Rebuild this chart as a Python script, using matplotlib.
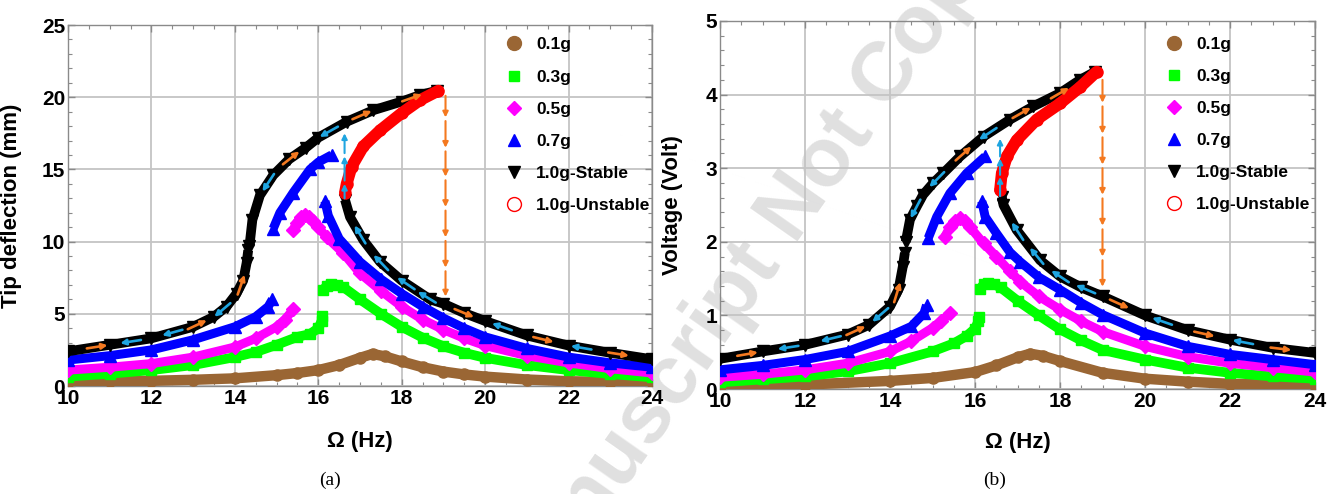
import numpy as np
import matplotlib
matplotlib.use("Agg")
import matplotlib.pyplot as plt
from matplotlib.lines import Line2D
from matplotlib.ticker import MultipleLocator

plt.rcParams['font.family'] = ['Liberation Sans', 'DejaVu Sans']

# ---------------- Panel (a): tip deflection (mm) ----------------
a_f01 = [10, 11, 12, 13, 14, 15, 15.5, 16, 16.5, 17.0, 17.3, 17.6, 18, 18.5, 19, 19.5, 20, 21, 22, 23, 24]
a_d01 = [0.3, 0.32, 0.36, 0.43, 0.53, 0.75, 0.9, 1.1, 1.45, 1.95, 2.22, 2.05, 1.7, 1.3, 1.0, 0.8, 0.65, 0.45, 0.33, 0.28, 0.25]

a_f03L = [10, 11, 12, 13, 14, 14.5, 15, 15.5, 15.8, 16.0, 16.08, 16.1]
a_d03L = [0.65, 0.85, 1.1, 1.45, 2.0, 2.35, 2.85, 3.4, 3.6, 4.0, 4.5, 4.85]
a_f03R = [16.12, 16.2, 16.3, 16.45, 16.6, 17.0, 17.5, 18, 18.5, 19, 19.5, 20, 21, 22, 23, 24]
a_d03R = [6.65, 6.95, 7.05, 7.0, 6.85, 6.0, 5.0, 4.1, 3.35, 2.75, 2.3, 1.95, 1.45, 1.1, 0.83, 0.6]

a_f05L = [10, 11, 12, 13, 14, 14.5, 15, 15.2, 15.4]
a_d05L = [1.1, 1.3, 1.55, 2.0, 2.7, 3.3, 4.1, 4.6, 5.3]
a_f05U = [15.4, 15.48, 15.58, 15.68, 15.78, 15.88, 16.0, 16.2, 16.6, 17.0, 17.5, 18, 18.5, 19, 19.5, 20, 21, 22, 23, 24]
a_d05U = [10.8, 11.3, 11.7, 11.85, 11.7, 11.4, 11.0, 10.3, 9.2, 7.8, 6.6, 5.5, 4.6, 3.9, 3.3, 2.8, 2.1, 1.6, 1.2, 0.9]

a_f07L = [10, 11, 12, 13, 14, 14.5, 14.8, 14.9]
a_d07L = [1.8, 2.1, 2.5, 3.2, 4.1, 4.8, 5.5, 6.0]
a_f07U = [14.92, 15.08, 15.4, 15.8, 16.0, 16.32]
a_d07U = [10.9, 12.0, 13.4, 15.0, 15.5, 16.0]
a_f07R = [16.16, 16.24, 16.5, 17.0, 17.5, 18, 18.5, 19, 19.5, 20, 21, 22, 23, 24]
a_d07R = [12.8, 11.8, 10.2, 8.6, 7.4, 6.4, 5.5, 4.7, 4.0, 3.4, 2.6, 2.0, 1.6, 1.3]

a_f10L = [10, 11, 12, 13, 13.5, 13.8, 14.04, 14.2, 14.28, 14.32]
a_d10L = [2.4, 2.85, 3.3, 4.1, 4.8, 5.5, 6.4, 7.3, 8.5, 9.4]
a_f10U = [14.35, 14.42, 14.6, 14.92, 15.3, 15.7, 16.0, 16.68, 17.32, 18.0, 18.44, 18.84]
a_d10U = [9.7, 11.5, 13.2, 14.6, 15.7, 16.5, 17.2, 18.3, 19.1, 19.7, 20.15, 20.45]
a_f10R = [16.64, 16.76, 17.08, 17.48, 18.0, 18.68, 19, 19.5, 20, 21, 22, 23, 24]
a_d10R = [12.9, 11.7, 10.1, 8.6, 7.3, 6.0, 5.7, 5.05, 4.5, 3.5, 2.8, 2.3, 1.85]

a_fUn = [18.88, 18.44, 18.0, 17.48, 17.08, 16.8, 16.68, 16.64]
a_dUn = [20.45, 19.8, 18.9, 17.7, 16.6, 15.2, 14.0, 13.4]

# ---------------- Panel (b): voltage (V) ----------------
b_f01 = [10, 12, 14, 15, 16, 16.5, 17.0, 17.3, 17.6, 18, 19, 20, 21, 22, 24]
b_v01 = [0.04, 0.06, 0.11, 0.15, 0.23, 0.32, 0.43, 0.48, 0.45, 0.38, 0.22, 0.14, 0.10, 0.07, 0.05]

b_f03L = [10, 11, 12, 13, 14, 15, 15.5, 15.8, 16.0, 16.08, 16.1]
b_v03L = [0.09, 0.13, 0.17, 0.24, 0.35, 0.51, 0.62, 0.72, 0.82, 0.92, 0.98]
b_f03R = [16.12, 16.2, 16.3, 16.45, 16.6, 17.0, 17.5, 18, 18.5, 19, 20, 21, 22, 23, 24]
b_v03R = [1.36, 1.42, 1.44, 1.42, 1.38, 1.2, 1.0, 0.81, 0.66, 0.53, 0.4, 0.29, 0.22, 0.17, 0.14]

b_f05L = [10, 11, 12, 13, 14, 14.5, 15, 15.2, 15.41]
b_v05L = [0.16, 0.2, 0.26, 0.35, 0.51, 0.65, 0.83, 0.92, 1.03]
b_f05U = [15.29, 15.41, 15.53, 15.65, 15.77, 15.88, 16.2, 16.5, 16.82, 17.06, 17.5, 18, 18.5, 19, 20, 21, 22, 23, 24]
b_v05U = [2.07, 2.2, 2.28, 2.32, 2.28, 2.2, 1.98, 1.8, 1.6, 1.46, 1.26, 1.08, 0.92, 0.78, 0.58, 0.44, 0.35, 0.29, 0.23]

b_f07L = [10, 11, 12, 13, 14, 14.5, 14.8, 14.86]
b_v07L = [0.26, 0.32, 0.40, 0.51, 0.72, 0.85, 1.03, 1.14]
b_f07U = [14.9, 15.1, 15.41, 15.8, 16.24]
b_v07U = [2.05, 2.34, 2.66, 2.93, 3.16]
b_f07R = [16.16, 16.24, 16.5, 16.82, 17.06, 17.5, 18, 18.5, 19, 20, 21, 22, 23, 24]
b_v07R = [2.55, 2.34, 2.12, 1.86, 1.73, 1.52, 1.35, 1.17, 1.01, 0.76, 0.58, 0.47, 0.40, 0.33]

b_f10L = [10, 11, 12, 13, 13.5, 14, 14.2, 14.3, 14.35]
b_v10L = [0.41, 0.51, 0.60, 0.74, 0.87, 1.12, 1.35, 1.66, 1.85]
b_f10U = [14.37, 14.47, 14.63, 14.78, 15.02, 15.25, 15.65, 16.2, 16.82, 17.37, 18.0, 18.47, 18.82]
b_v10U = [2.0, 2.3, 2.48, 2.64, 2.80, 2.93, 3.16, 3.43, 3.66, 3.84, 4.02, 4.2, 4.31]
b_f10R = [16.63, 16.67, 16.98, 17.53, 18.0, 18.5, 19.0, 20.0, 21.0, 22.0, 23.0, 24.0]
b_v10R = [2.61, 2.5, 2.16, 1.75, 1.53, 1.38, 1.26, 1.0, 0.8, 0.67, 0.56, 0.49]

b_fUn = [18.86, 18.47, 18.0, 17.45, 16.98, 16.75, 16.63, 16.59]
b_vUn = [4.31, 4.10, 3.88, 3.66, 3.38, 3.16, 2.93, 2.71]

# ---------------- sweep annotations ----------------
a_jump_down_f, a_jump_down_top = 19.05, 20.1
a_jump_down_heads = [18.6, 16.5, 14.5, 12.4, 10.3, 8.2, 6.2]
a_jump_up_f, a_jump_up_bottom = 16.63, 13.0
a_jump_up_heads = [14.0, 15.9, 17.5]
b_jump_down_f, b_jump_down_top = 19.0, 4.2
b_jump_down_heads = [3.89, 3.47, 3.05, 2.64, 2.22, 1.80, 1.39]
b_jump_up_f, b_jump_up_bottom = 16.59, 2.62
b_jump_up_heads = [2.88, 3.13, 3.4]

a_fwd = {'L': [10.7, 13.1, 14.15], 'U': [15.35, 17.05, 18.25], 'R': [19.5, 21.4, 23.2]}
a_bwd = {'L': [11.5, 12.5, 13.7], 'U': [14.8, 16.25], 'R': [17.0, 17.5, 18.1, 18.6, 20.4, 22.3]}
b_fwd = {'L': [10.65, 13.2, 14.17], 'U': [15.73, 17.1, 18.0], 'R': [19.4, 21.4, 23.2]}
b_bwd = {'L': [11.6, 12.6, 13.77], 'U': [14.6, 15.1, 16.3], 'R': [17.0, 17.45, 18.0, 18.6, 20.4, 22.3]}

legend_labels = ['0.1g', '0.3g', '0.5g', '0.7g', '1.0g-Stable', '1.0g-Unstable']

BROWN, GREEN, MAG, BLUE, BLACK, RED = '#9a6634', '#00ff00', '#ff00ff', '#0000ff', '#000000', '#ff0000'
ORANGE, CYAN = '#f47920', '#1fa5e0'

W, H = 13.28, 4.94
fig = plt.figure(figsize=(W, H), dpi=100)
fig.patch.set_facecolor('white')

# watermark (behind the axes)
fig.text(705 / 1328, 1 - 335 / 494, 'Accepted Manuscript Not Copyedited', rotation=55,
         rotation_mode='anchor', ha='center', va='center', fontsize=60, fontweight='bold',
         color='#e0e0e0', zorder=-5)

axA = fig.add_axes([68 / 1328, 108 / 494, 584 / 1328, 361 / 494])
axB = fig.add_axes([720 / 1328, 105 / 494, 595 / 1328, 368 / 494])


def band(ax, f, y, color, marker, ms, lw=7.0, z=3):
    ax.plot(f, y, color=color, lw=lw, solid_capstyle='butt', solid_joinstyle='round',
            marker=marker, ms=ms, mfc=color, mec=color, zorder=z, clip_on=True)


def curve_arrow(ax, fb, yb, fc, sign, color, L=21):
    fb = np.asarray(fb, float); yb = np.asarray(yb, float)
    p1 = ax.transData.transform((fc - 0.12, np.interp(fc - 0.12, fb, yb)))
    p2 = ax.transData.transform((fc + 0.12, np.interp(fc + 0.12, fb, yb)))
    d = p2 - p1
    d = d / np.hypot(*d) * sign
    c = ax.transData.transform((fc, np.interp(fc, fb, yb)))
    inv = ax.transData.inverted()
    head = inv.transform(c + d * L / 2)
    tail = inv.transform(c - d * L / 2)
    ax.annotate('', xy=head, xytext=tail,
                arrowprops=dict(arrowstyle='-|>', color=color, lw=1.9, mutation_scale=8,
                                shrinkA=0, shrinkB=0), zorder=7)


def jump(ax, f, start, heads, color):
    prev = start
    span = abs(heads[1] - heads[0])
    gap = 0.12 * span
    for i, h in enumerate(heads):
        s = prev if i == 0 else (prev - gap if h < prev else prev + gap)
        ax.annotate('', xy=(f, h), xytext=(f, s),
                    arrowprops=dict(arrowstyle='-|>', color=color, lw=1.5, mutation_scale=8,
                                    shrinkA=0, shrinkB=0), zorder=8)
        prev = h


def setup(ax, ymax, ymajor, yminor, ylabel, leg_anchor, ylab_x, xlab_y):
    ax.set_xlim(10, 24)
    ax.set_ylim(0, ymax)
    ax.patch.set_alpha(0)
    ax.xaxis.set_major_locator(MultipleLocator(2))
    ax.xaxis.set_minor_locator(MultipleLocator(0.5))
    ax.yaxis.set_major_locator(MultipleLocator(ymajor))
    ax.yaxis.set_minor_locator(MultipleLocator(yminor))
    ax.grid(True, which='major', color='#c4c4c4', lw=1.3)
    ax.set_axisbelow(True)
    ax.tick_params(which='both', direction='in', top=True, right=True, color='#8a8a8a')
    ax.tick_params(which='major', length=5, width=1, labelsize=15, pad=2)
    ax.tick_params(which='minor', length=3, width=0.8)
    for lab in ax.get_xticklabels() + ax.get_yticklabels():
        lab.set_fontweight('bold')
    for sp in ax.spines.values():
        sp.set_color('#8a8a8a')
        sp.set_linewidth(1.0)
    ax.set_xlabel('Ω (Hz)', fontsize=16, fontweight='bold')
    ax.set_ylabel(ylabel, fontsize=16, fontweight='bold')
    ax.xaxis.set_label_coords(0.5, xlab_y)
    ax.yaxis.set_label_coords(ylab_x, 0.5)
    handles = [
        Line2D([], [], ls='None', marker='o', ms=10, mfc=BROWN, mec=BROWN),
        Line2D([], [], ls='None', marker='s', ms=6.5, mfc=GREEN, mec=GREEN),
        Line2D([], [], ls='None', marker='D', ms=7.5, mfc=MAG, mec=MAG),
        Line2D([], [], ls='None', marker='^', ms=8.5, mfc=BLUE, mec=BLUE),
        Line2D([], [], ls='None', marker='v', ms=8.5, mfc=BLACK, mec=BLACK),
        Line2D([], [], ls='None', marker='o', ms=10, mfc='none', mec=RED, mew=1.0),
    ]
    ax.legend(handles, legend_labels, loc='upper left', bbox_to_anchor=leg_anchor,
              frameon=False, prop={'weight': 'bold', 'size': 12.5}, labelspacing=0.98,
              handlelength=1.0, handletextpad=0.8, borderpad=0, borderaxespad=0)


setup(axA, 25, 5, 1, 'Tip deflection (mm)', (0.748, 0.966), -0.079, -0.125)
setup(axB, 5, 1, 0.2, 'Voltage (Volt)', (0.748, 0.958), -0.062, -0.118)

panels = [
    (axA, (a_f01, a_d01), (a_f03L, a_d03L), (a_f03R, a_d03R), (a_f05L, a_d05L), (a_f05U, a_d05U),
     (a_f07L, a_d07L), (a_f07U, a_d07U), (a_f07R, a_d07R), (a_f10L, a_d10L), (a_f10U, a_d10U),
     (a_f10R, a_d10R), (a_fUn, a_dUn), a_fwd, a_bwd,
     (a_jump_down_f, a_jump_down_top, a_jump_down_heads), (a_jump_up_f, a_jump_up_bottom, a_jump_up_heads)),
    (axB, (b_f01, b_v01), (b_f03L, b_v03L), (b_f03R, b_v03R), (b_f05L, b_v05L), (b_f05U, b_v05U),
     (b_f07L, b_v07L), (b_f07U, b_v07U), (b_f07R, b_v07R), (b_f10L, b_v10L), (b_f10U, b_v10U),
     (b_f10R, b_v10R), (b_fUn, b_vUn), b_fwd, b_bwd,
     (b_jump_down_f, b_jump_down_top, b_jump_down_heads), (b_jump_up_f, b_jump_up_bottom, b_jump_up_heads)),
]

for (ax, c01, c03L, c03R, c05L, c05U, c07L, c07U, c07R, c10L, c10U, c10R, cUn, fwd, bwd, jd, ju) in panels:
    band(ax, *c01, BROWN, 'o', 8, lw=7.5, z=3)
    band(ax, *c03L, GREEN, 's', 7, lw=7.0, z=3.1)
    band(ax, *c03R, GREEN, 's', 7, lw=7.0, z=3.1)
    band(ax, *c05L, MAG, 'D', 7, lw=6.5, z=3.2)
    band(ax, *c05U, MAG, 'D', 7, lw=6.5, z=3.2)
    band(ax, *c07L, BLUE, '^', 8, lw=6.5, z=3.3)
    band(ax, *c07U, BLUE, '^', 8, lw=6.5, z=3.3)
    band(ax, *c07R, BLUE, '^', 8, lw=6.5, z=3.3)
    band(ax, *c10L, BLACK, 'v', 8, lw=7.0, z=3.4)
    band(ax, *c10U, BLACK, 'v', 8, lw=7.0, z=3.4)
    band(ax, *c10R, BLACK, 'v', 8, lw=7.0, z=3.4)
    ax.plot(*cUn, color=RED, lw=8.5, solid_capstyle='round', solid_joinstyle='round',
            marker='o', ms=8, mfc=RED, mec=RED, zorder=3.6)
    branches = {'L': c10L, 'U': c10U, 'R': c10R}
    for key, fl in fwd.items():
        for fc in fl:
            curve_arrow(ax, *branches[key], fc, +1, ORANGE)
    for key, fl in bwd.items():
        for fc in fl:
            curve_arrow(ax, *branches[key], fc, -1, CYAN)
    jump(ax, jd[0], jd[1], jd[2], ORANGE)
    jump(ax, ju[0], ju[1], ju[2], CYAN)

fig.text(330 / 1328, 1 - 480 / 494, '(a)', fontsize=14, family=['Liberation Serif', 'DejaVu Serif'],
         ha='center', va='center')
fig.text(995 / 1328, 1 - 480 / 494, '(b)', fontsize=14, family=['Liberation Serif', 'DejaVu Serif'],
         ha='center', va='center')

fig.savefig('out.png', dpi=100)
